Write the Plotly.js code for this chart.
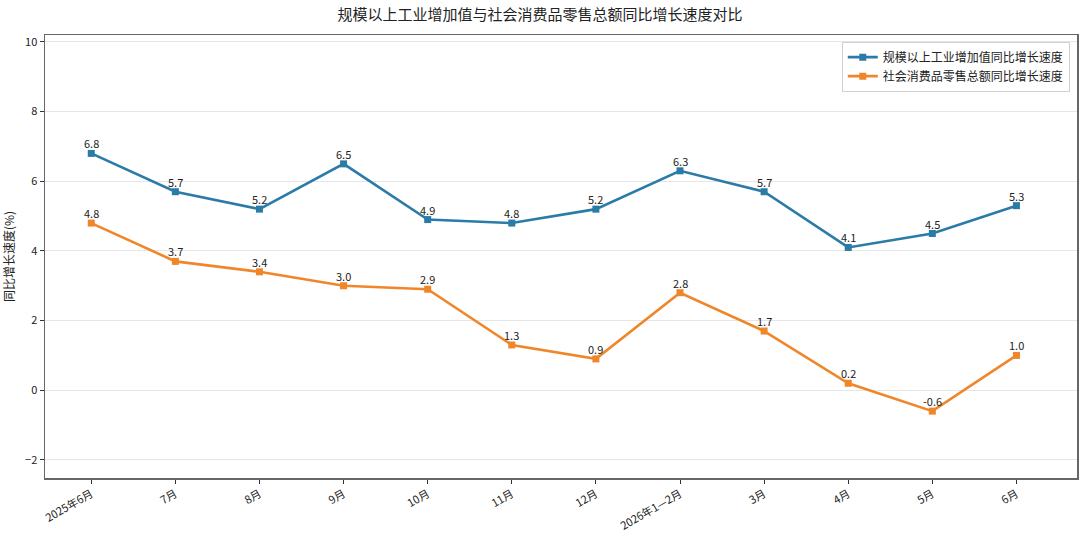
<!DOCTYPE html>
<html>
<head>
<meta charset="utf-8">
<script src="https://cdn.plot.ly/plotly-3.0.1.min.js"></script>
<style>
  html, body { margin: 0; padding: 0; background: #fff; }
  #plot { width: 1080px; height: 536px; }
</style>
</head>
<body>
<div id="plot"></div>
<script>
// months on the x axis
var months = ['2025年6月', '7月', '8月', '9月', '10月', '11月', '12月', '2026年1—2月', '3月', '4月', '5月', '6月'];
// 规模以上工业增加值同比增长速度 (%)
var industry = [6.8, 5.7, 5.2, 6.5, 4.9, 4.8, 5.2, 6.3, 5.7, 4.1, 4.5, 5.3];
// 社会消费品零售总额同比增长速度 (%)
var retail = [4.8, 3.7, 3.4, 3.0, 2.9, 1.3, 0.9, 2.8, 1.7, 0.2, -0.6, 1.0];

var fontFam = '"Noto Sans CJK SC", "Noto Sans", sans-serif';
var xIdx = months.map(function(m, i) { return i; });

function makeTrace(name, ys, color) {
  return {
    type: 'scatter',
    mode: 'lines+markers',
    name: name,
    x: xIdx,
    y: ys,
    line: {color: color, width: 2.6},
    marker: {symbol: 'square', size: 7, color: color}
  };
}

var data = [
  makeTrace('规模以上工业增加值同比增长速度', industry, '#2b7ba8'),
  makeTrace('社会消费品零售总额同比增长速度', retail, '#f0862a')
];

// value labels sitting just above each marker
var labels = [];
[industry, retail].forEach(function(ys) {
  ys.forEach(function(v, i) {
    labels.push({
      x: i, y: v, xref: 'x', yref: 'y',
      text: v.toFixed(1),
      showarrow: false,
      yanchor: 'bottom', yshift: 0,
      font: {family: fontFam, size: 11, color: '#222'}
    });
  });
});

var layout = {
  width: 1080,
  height: 536,
  margin: {l: 45, r: 3, t: 35, b: 58},
  paper_bgcolor: '#fff',
  plot_bgcolor: '#fff',
  font: {family: fontFam, size: 11, color: '#222'},
  title: {
    text: '规模以上工业增加值与社会消费品零售总额同比增长速度对比',
    font: {family: fontFam, size: 15, color: '#222'},
    x: 0.5, xanchor: 'center', y: 0.973, yanchor: 'middle'
  },
  annotations: labels,
  xaxis: {
    range: [-0.55, 11.72],
    tickmode: 'array',
    tickvals: xIdx,
    ticktext: months,
    tickangle: -30,
    ticks: 'outside', ticklen: 4, tickcolor: '#333',
    showgrid: false, zeroline: false,
    showline: true, mirror: true, linecolor: '#666', linewidth: 1.5,
    tickfont: {family: fontFam, size: 11, color: '#222'}
  },
  yaxis: {
    range: [-2.52, 10.2],
    tickvals: [-2, 0, 2, 4, 6, 8, 10],
    ticks: 'outside', ticklen: 4, tickcolor: '#333',
    showgrid: true, gridcolor: '#e6e6e6', gridwidth: 1,
    zeroline: false,
    showline: true, mirror: true, linecolor: '#666', linewidth: 1.5,
    tickfont: {family: fontFam, size: 11, color: '#222'},
    title: {text: '同比增长速度(%)', font: {family: fontFam, size: 12, color: '#222'}, standoff: 8}
  },
  legend: {
    x: 0.993, xanchor: 'right', y: 0.985, yanchor: 'top',
    bgcolor: 'rgba(255,255,255,0.9)', bordercolor: '#d0d0d0', borderwidth: 1,
    font: {family: fontFam, size: 12, color: '#222'},
    tracegroupgap: 0
  },
  showlegend: true
};

Plotly.newPlot('plot', data, layout, {displayModeBar: false, staticPlot: true});
</script>
</body>
</html>
